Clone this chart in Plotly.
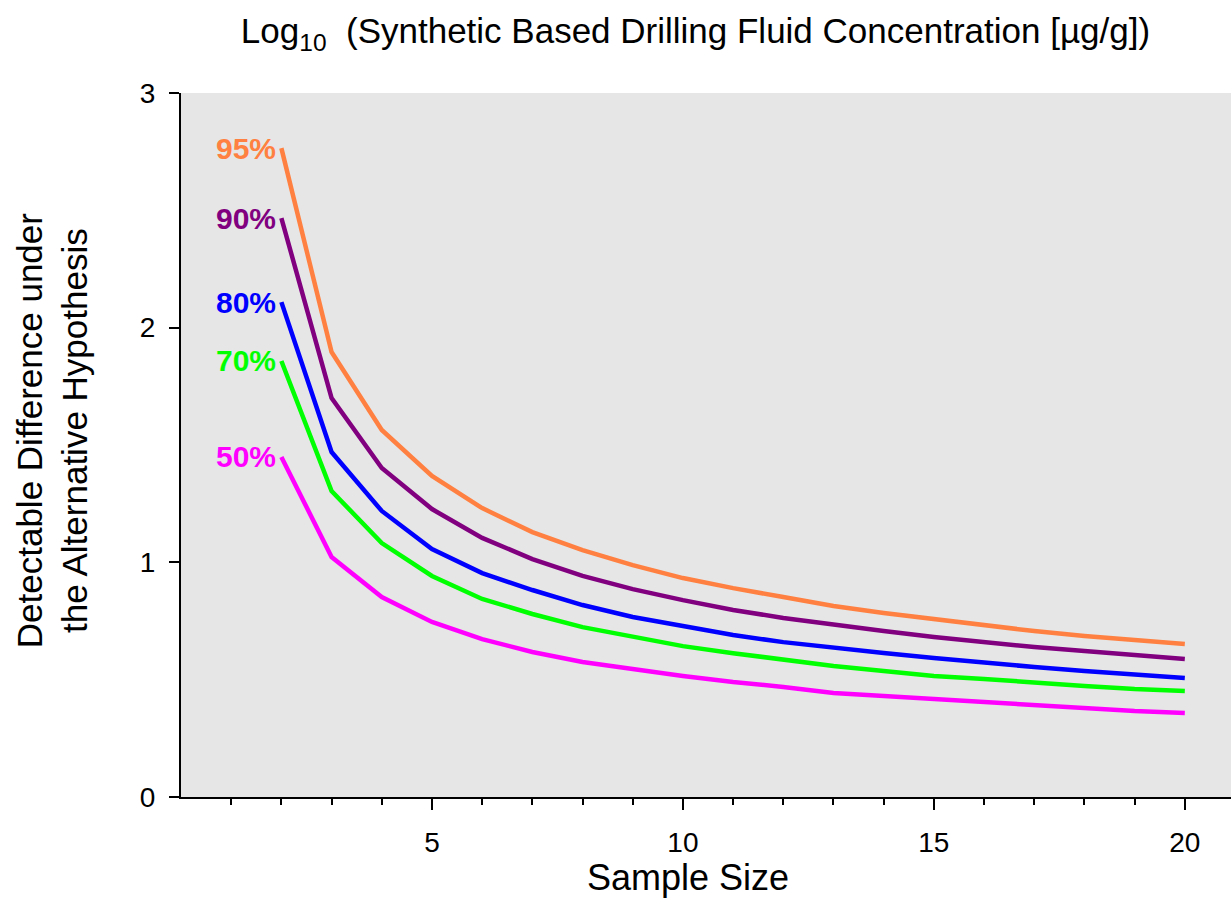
import plotly.graph_objects as go

sample_size = list(range(2, 21))
power_labels = ["95%", "90%", "80%", "70%", "50%"]
colors = ["#FF8040", "#800080", "#0000FF", "#00FF00", "#FF00FF"]

p95 = [2.765, 1.896, 1.564, 1.368, 1.231, 1.129, 1.052, 0.988, 0.933, 0.890, 0.852,
       0.814, 0.784, 0.758, 0.729, 0.707, 0.686, 0.669, 0.652]
p90 = [2.467, 1.700, 1.402, 1.227, 1.104, 1.014, 0.942, 0.886, 0.839, 0.797, 0.763,
       0.733, 0.707, 0.682, 0.660, 0.639, 0.622, 0.605, 0.588]
p80 = [2.109, 1.470, 1.219, 1.057, 0.954, 0.882, 0.818, 0.767, 0.729, 0.690, 0.660,
       0.639, 0.614, 0.592, 0.571, 0.554, 0.537, 0.520, 0.507]
p70 = [1.858, 1.304, 1.082, 0.942, 0.844, 0.780, 0.724, 0.682, 0.643, 0.613, 0.584,
       0.558, 0.537, 0.516, 0.503, 0.486, 0.473, 0.460, 0.452]
p50 = [1.449, 1.023, 0.852, 0.746, 0.673, 0.618, 0.575, 0.545, 0.516, 0.490, 0.469,
       0.443, 0.430, 0.418, 0.405, 0.392, 0.379, 0.366, 0.358]
series = [p95, p90, p80, p70, p50]

x_tickvals = [5, 10, 15, 20]
x_minor_tickvals = [1, 2, 3, 4, 6, 7, 8, 9, 11, 12, 13, 14, 16, 17, 18, 19]
y_tickvals = [0, 1, 2, 3]

title_text = "Log<sub>10</sub>  (Synthetic Based Drilling Fluid Concentration [µg/g])"
x_title = "Sample Size"
y_title = "Detectable Difference under<br>the Alternative Hypothesis"

FONT = "Liberation Sans, Arial, sans-serif"

fig = go.Figure()
for lab, col, ys in zip(power_labels, colors, series):
    fig.add_trace(go.Scatter(x=sample_size, y=ys, mode="lines", name=lab,
                             line=dict(color=col, width=4.5), showlegend=False))
    fig.add_annotation(x=sample_size[0], y=ys[0], text="<b>" + lab + "</b>",
                       xref="x", yref="y", xanchor="right", yanchor="middle",
                       xshift=-3, showarrow=False,
                       font=dict(family=FONT, size=30, color=col))

# axis titles as annotations for precise placement
fig.add_annotation(text=x_title, xref="paper", yref="paper", x=0.483, y=-0.115,
                   xanchor="center", yanchor="middle", showarrow=False,
                   font=dict(family=FONT, size=36, color="black"))
fig.add_annotation(text=y_title, xref="paper", yref="paper", x=0, y=0.521,
                   xanchor="center", yanchor="middle", xshift=-129, textangle=-90,
                   showarrow=False, font=dict(family=FONT, size=35, color="black"))

fig.update_layout(
    width=1231, height=909,
    margin=dict(l=181, r=0, t=93, b=112),
    paper_bgcolor="white", plot_bgcolor="#E6E6E6",
    font=dict(family=FONT, color="black"),
    title=dict(text=title_text,
               x=0.49, xref="paper", xanchor="center", y=0.966, yanchor="middle",
               font=dict(family=FONT, size=35, color="black")),
)
fig.update_xaxes(
    range=[0, 20.92], tickvals=x_tickvals, ticks="outside", ticklen=11, tickwidth=2,
    tickcolor="black", showgrid=False, zeroline=False, showline=True, linecolor="black",
    linewidth=2, tickfont=dict(family=FONT, size=28, color="black"), ticklabelstandoff=8,
    minor=dict(tickvals=x_minor_tickvals, ticks="outside", ticklen=6, tickwidth=2,
               tickcolor="black", showgrid=False),
)
fig.update_yaxes(
    range=[0, 3], tickvals=y_tickvals, ticks="outside", ticklen=10, tickwidth=2,
    tickcolor="black", showgrid=False, zeroline=False, showline=True, linecolor="black",
    linewidth=2, tickfont=dict(family=FONT, size=28, color="black"), ticklabelstandoff=8,
)

fig.write_html("out.html", config={"displayModeBar": False},
               post_script="document.body.style.margin='0';")
